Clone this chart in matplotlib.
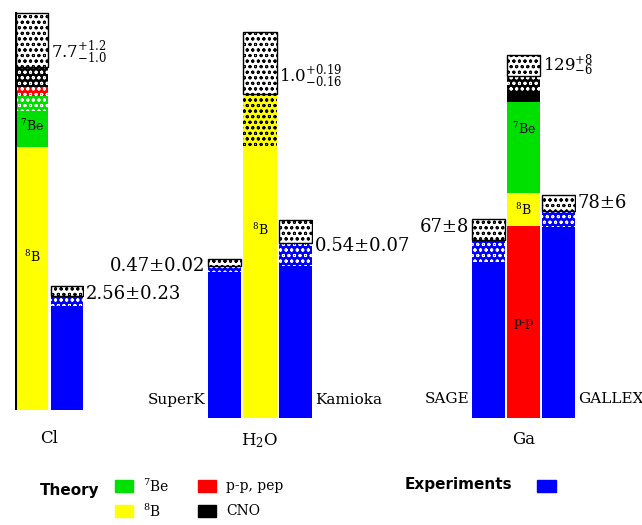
import matplotlib
matplotlib.use("Agg")
import matplotlib.pyplot as plt
from matplotlib.patches import Rectangle

plt.rcParams['font.family'] = ['DejaVu Serif']
plt.rcParams['mathtext.fontset'] = 'dejavuserif'
plt.rcParams['hatch.linewidth'] = 0.7

# theory contributions (SNU for Cl and Ga, ratio to BP98 for H2O)
cl_parts = ["8B", "7Be", "pep", "CNO"]
cl_theory = [5.9, 1.15, 0.2, 0.45]
cl_err = [1.2, 1.0]          # +, -
cl_exp = [2.56]
cl_exp_err = [0.23]
cl_names = ["Homestake"]

h2o_parts = ["8B"]
h2o_theory = [1.0]
h2o_err = [0.19, 0.16]
h2o_exp = [0.47, 0.54]
h2o_exp_err = [0.02, 0.07]
h2o_names = ["SuperK", "Kamioka"]

ga_parts = ["pp", "8B", "7Be", "CNO"]
ga_theory = [72.4, 12.4, 34.4, 9.8]
ga_err = [8, 6]
ga_exp = [67, 78]
ga_exp_err = [8, 6]
ga_names = ["SAGE", "GALLEX"]

colors = {"8B": "#ffff00", "7Be": "#00e000", "pep": "#ff0000",
          "pp": "#ff0000", "CNO": "#000000"}
blue = "#0000ff"
inner = {"8B": "$^8$B", "7Be": "$^7$Be", "pp": "p-p"}
HATCH = "ooo"

W, H = 642, 525
fig = plt.figure(figsize=(W / 100, H / 100), dpi=100)


def make_ax(left, right, bottom, top_px, top_val, nslot):
    ax = fig.add_axes([left / W, 1 - bottom / H, (right - left) / W, bottom / H])
    ax.set_xlim(-0.5, nslot - 0.5)
    ax.set_ylim(0, top_val * bottom / (bottom - top_px))
    ax.axis("off")
    return ax


def err_box(ax, x, lo, hi, face, hatch_col, w=0.94):
    ax.bar(x, hi - lo, bottom=lo, width=w, color=face, edgecolor=hatch_col,
           linewidth=0, hatch=HATCH)


def theory_bar(ax, x, parts, vals, err, low_hatch):
    bottom = 0
    for p, v in zip(parts, vals):
        ax.bar(x, v, bottom=bottom, width=0.94, color=colors[p], linewidth=0)
        bottom += v
    tot = bottom
    err_box(ax, x, tot - err[1], tot, "none", low_hatch)
    err_box(ax, x, tot, tot + err[0], "white", "black")
    ax.bar(x, err[0], bottom=tot, width=0.94, fill=False, edgecolor="black", linewidth=1)
    return tot


def exp_bar(ax, x, val, e):
    ax.bar(x, val, width=0.94, color=blue, linewidth=0)
    err_box(ax, x, val - e, val, "none", "white")
    err_box(ax, x, val, val + e, "white", "black")
    ax.bar(x, e, bottom=val, width=0.94, fill=False, edgecolor="black", linewidth=1)


def inner_labels(ax, x, parts, vals, frac):
    bottom = 0
    for p, v, f in zip(parts, vals, frac):
        if f is not None and p in inner:
            ax.text(x, bottom + v * f, inner[p], ha="center", va="center", fontsize=9)
        bottom += v


# Cl
ax1 = make_ax(15, 84, 410, 13, sum(cl_theory) + cl_err[0], 2)
t1 = theory_bar(ax1, 0, cl_parts, cl_theory, cl_err, "white")
ax1.plot([-0.47, -0.47], [0, t1 + cl_err[0]], color="black", lw=1.5)
exp_bar(ax1, 1, cl_exp[0], cl_exp_err[0])
inner_labels(ax1, 0, cl_parts, cl_theory, [0.58, 0.4, None, None])
ax1.text(0.55, t1 + 0.3, r"$7.7^{+1.2}_{-1.0}$", ha="left", va="center", fontsize=12)
ax1.text(1.55, cl_exp[0] + 0.05, "2.56\u00b10.23", ha="left", va="center", fontsize=13)
ax1.text(0.5, -0.65, "Cl", ha="center", va="center", fontsize=12, clip_on=False)

# H2O
ax2 = make_ax(207, 313, 418, 32, sum(h2o_theory) + h2o_err[0], 3)
t2 = theory_bar(ax2, 1, h2o_parts, h2o_theory, h2o_err, "black")
exp_bar(ax2, 0, h2o_exp[0], h2o_exp_err[0])
exp_bar(ax2, 2, h2o_exp[1], h2o_exp_err[1])
inner_labels(ax2, 1, h2o_parts, h2o_theory, [0.58])
ax2.text(1.55, t2 + 0.05, r"$1.0^{+0.19}_{-0.16}$", ha="left", va="center", fontsize=12)
ax2.text(-0.55, h2o_exp[0], "0.47\u00b10.02", ha="right", va="center", fontsize=13)
ax2.text(2.55, h2o_exp[1] - 0.01, "0.54\u00b10.07", ha="left", va="center", fontsize=13)
ax2.text(-0.55, 0.055, h2o_names[0], ha="right", va="center", fontsize=11)
ax2.text(2.55, 0.055, h2o_names[1], ha="left", va="center", fontsize=11)
ax2.text(1, -0.07, r"H$_2$O", ha="center", va="center", fontsize=12, clip_on=False)

# Ga
ax3 = make_ax(471, 576, 418, 55, sum(ga_theory) + ga_err[0], 3)
t3 = theory_bar(ax3, 1, ga_parts, ga_theory, ga_err, "white")
exp_bar(ax3, 0, ga_exp[0], ga_exp_err[0])
exp_bar(ax3, 2, ga_exp[1], ga_exp_err[1])
inner_labels(ax3, 1, ga_parts, ga_theory, [0.5, 0.5, 0.7, None])
ax3.text(1.55, t3 + 4, r"$129^{+8}_{-6}$", ha="left", va="center", fontsize=12)
ax3.text(-0.55, ga_exp[0] + 5, "67\u00b18", ha="right", va="center", fontsize=13)
ax3.text(2.55, ga_exp[1] + 3, "78\u00b16", ha="left", va="center", fontsize=13)
ax3.text(-0.55, 7, ga_names[0], ha="right", va="center", fontsize=11)
ax3.text(2.55, 7, ga_names[1], ha="left", va="center", fontsize=11)
ax3.text(1, -8, "Ga", ha="center", va="center", fontsize=12, clip_on=False)

# legend
lg = fig.add_axes([0, 0, 1, 1])
lg.set_xlim(0, W)
lg.set_ylim(H, 0)
lg.axis("off")
lg.patch.set_alpha(0)
lg.text(40, 490, "Theory", ha="left", va="center", fontsize=11,
        fontweight="bold", family="DejaVu Sans")
leg_items = [("7Be", 115, 486, "$^7$Be"), ("8B", 115, 511, "$^8$B"),
             ("pp", 198, 486, "p-p, pep"), ("CNO", 198, 511, "CNO")]
for key, x, y, lab in leg_items:
    lg.add_patch(Rectangle((x, y - 6), 18, 12, color=colors[key]))
    lg.text(x + 28, y, lab, ha="left", va="center", fontsize=10)
lg.text(405, 485, "Experiments", ha="left", va="center", fontsize=11,
        fontweight="bold", family="DejaVu Sans")
lg.add_patch(Rectangle((537, 480), 19, 12, color=blue))

fig.savefig("out.png", dpi=100)
